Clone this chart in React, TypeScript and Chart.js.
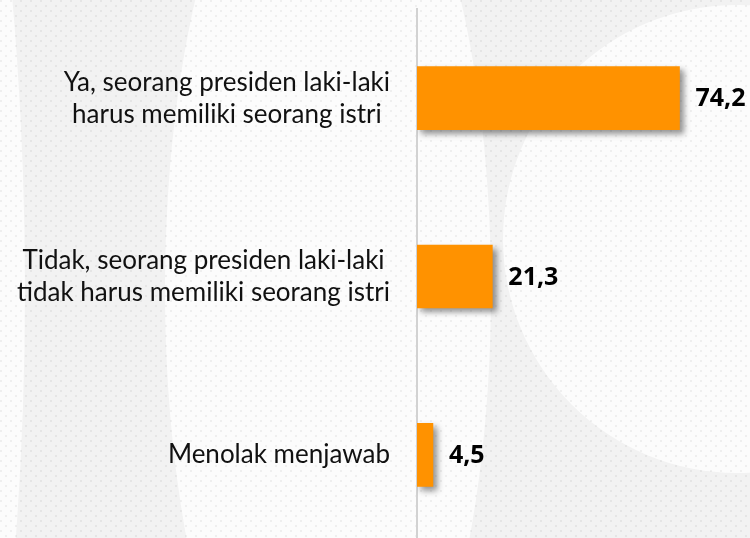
import React, { useEffect, useRef } from "react";
import { Chart, registerables } from "chart.js";

Chart.register(...registerables);

const categories: string[][] = [
  ["Ya, seorang presiden laki-laki", "harus memiliki seorang istri"],
  ["Tidak, seorang presiden laki-laki", "tidak harus memiliki seorang istri"],
  ["Menolak menjawab"],
];
const values: number[] = [74.2, 21.3, 4.5];
const valueLabels: string[] = ["74,2", "21,3", "4,5"];

const BAR_COLOR = "#ff9200";
const LABEL_FONT = "26px Lato";
const VALUE_FONT = "bold 25px 'Open Sans'";

export default function App() {
  const ref = useRef<HTMLCanvasElement | null>(null);

  useEffect(() => {
    document.body.style.margin = "0";
    const canvas = ref.current;
    if (!canvas) return;

    const bgPlugin = {
      id: "bgWatermark",
      beforeDraw(chart: any) {
        const ctx = chart.ctx as CanvasRenderingContext2D;
        const w = chart.width;
        const h = chart.height;
        ctx.save();
        ctx.fillStyle = "#f2f2f2";
        ctx.fillRect(0, 0, w, h);
        ctx.fillStyle = "#fcfcfc";
        // left strip outside the ring
        ctx.beginPath();
        ctx.ellipse(-400, 290, 425, 1200, 0, 0, Math.PI * 2);
        ctx.fill();
        // inner of the "C"
        ctx.beginPath();
        ctx.ellipse(328, 290, 163, 500, 0, 0, Math.PI * 2);
        ctx.fill();
        // right circle
        ctx.beginPath();
        ctx.ellipse(737, 239, 234, 234, 0, 0, Math.PI * 2);
        ctx.fill();
        // dots
        ctx.fillStyle = "rgba(0,0,0,0.05)";
        for (let j = 0; j * 5 < h + 5; j++) {
          const off = j % 2 === 0 ? 0 : 5;
          for (let x = off; x < w + 10; x += 10) {
            ctx.fillRect(x, j * 5, 2, 2);
          }
        }
        ctx.restore();
      },
    };

    const shadowPlugin = {
      id: "barShadow",
      beforeDatasetsDraw(chart: any) {
        const ctx = chart.ctx as CanvasRenderingContext2D;
        ctx.save();
        ctx.shadowColor = "rgba(0,0,0,0.42)";
        ctx.shadowBlur = 6;
        ctx.shadowOffsetX = 4;
        ctx.shadowOffsetY = 4;
      },
      afterDatasetsDraw(chart: any) {
        chart.ctx.restore();
      },
    };

    const labelPlugin = {
      id: "textLabels",
      afterDraw(chart: any) {
        const ctx = chart.ctx as CanvasRenderingContext2D;
        const yScale = chart.scales.y;
        const meta = chart.getDatasetMeta(0);
        ctx.save();
        // category labels: block right-aligned, lines centered
        ctx.font = LABEL_FONT;
        ctx.fillStyle = "#111111";
        ctx.textBaseline = "middle";
        ctx.textAlign = "center";
        const rightEdge = chart.chartArea.left - 27;
        const lineH = 32;
        categories.forEach((lines, i) => {
          const cy = yScale.getPixelForValue(i);
          const maxW = Math.max(...lines.map((l) => ctx.measureText(l).width));
          const cx = rightEdge - maxW / 2;
          const startY = cy - ((lines.length - 1) * lineH) / 2;
          lines.forEach((l, k) => ctx.fillText(l, cx, startY + k * lineH));
        });
        // value labels
        ctx.font = VALUE_FONT;
        ctx.fillStyle = "#000000";
        ctx.textAlign = "left";
        meta.data.forEach((bar: any, i: number) => {
          ctx.fillText(valueLabels[i], bar.x + 16, bar.y + 1);
        });
        ctx.restore();
      },
    };

    const chart = new Chart(canvas, {
      type: "bar",
      data: {
        labels: categories.map((c) => c.join(" ")),
        datasets: [
          {
            data: values,
            backgroundColor: BAR_COLOR,
            borderWidth: 0,
            barThickness: 63,
          },
        ],
      },
      options: {
        indexAxis: "y",
        responsive: false,
        animation: false,
        layout: { padding: { top: 9, bottom: 1, left: 0, right: 50 } },
        plugins: {
          legend: { display: false },
          tooltip: { enabled: false },
        },
        scales: {
          x: {
            display: false,
            min: 0,
            max: 80,
          },
          y: {
            type: "category",
            ticks: { display: false },
            grid: { display: false },
            border: { display: true, color: "#d2d2d2", width: 2 },
            afterFit(scale: any) {
              scale.width = 417;
            },
          },
        },
      },
      plugins: [bgPlugin, shadowPlugin, labelPlugin],
    });

    return () => chart.destroy();
  }, []);

  return (
    <div style={{ width: 750, height: 538, overflow: "hidden" }}>
      <canvas ref={ref} width={750} height={545} style={{ width: 750, height: 545, display: "block" }} />
    </div>
  );
}
